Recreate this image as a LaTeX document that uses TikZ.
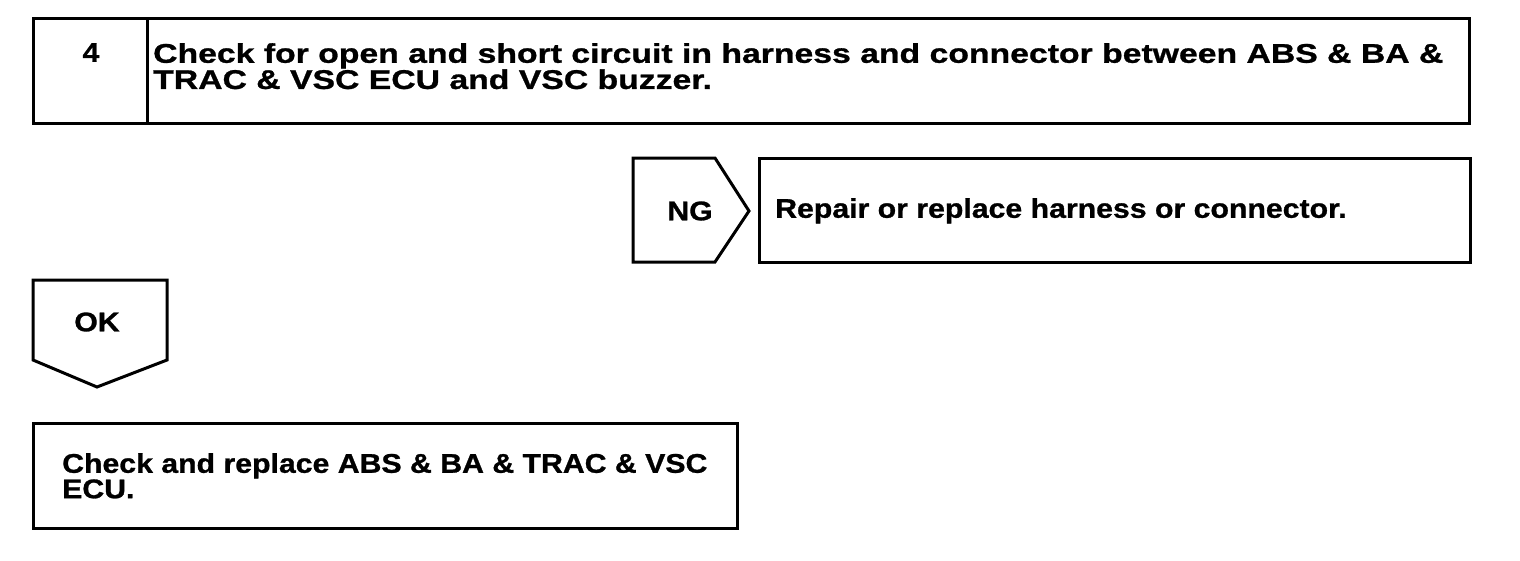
\documentclass[tikz,border=0pt]{standalone}
\usepackage{fontspec}
\setmainfont{Liberation Sans}[BoldFeatures={FakeStretch=1.12,FakeBold=1}]
\newfontfamily\widefont{Liberation Sans Bold}[FakeStretch=1.25,FakeBold=1]
\begin{document}
\begin{tikzpicture}[x=1pt,y=-1pt,
  frame/.style={draw=black,line width=3pt,line join=miter},
  label/.style={inner sep=0pt,font=\bfseries\fontsize{27}{24}\selectfont,align=left,anchor=north west},
  widelabel/.style={label,font=\widefont\fontsize{27}{24}\selectfont},
  tag/.style={inner sep=0pt,font=\bfseries\fontsize{27}{24}\selectfont}]
\useasboundingbox (0,0) rectangle (1520,560);
% step 4 box
\draw[frame] (33,18) rectangle (1469,123);
\draw[frame] (147,18) -- (147,123);
\node[tag,anchor=north] (num) at (91,43) {4};
\node[widelabel] (step) at (153,43) {Check for open and short circuit in harness and connector between ABS \& BA \&\\TRAC \& VSC ECU and VSC buzzer.};
% NG
\draw[frame] (633,158) -- (715,158) -- (749,211) -- (715,262) -- (633,262) -- cycle;
\node[tag] (ng) at (690,211) {NG};
\draw[frame] (759,158) rectangle (1470,262);
\node[label] (repair) at (775,198) {Repair or replace harness or connector.};
% OK
\draw[frame] (33,280) -- (167,280) -- (167,360) -- (97,387) -- (33,360) -- cycle;
\node[tag] (ok) at (97,322) {OK};
% final box
\draw[frame] (33,423) rectangle (737,528);
\node[label] (ecu) at (62,453) {Check and replace ABS \& BA \& TRAC \& VSC\\ECU.};
\end{tikzpicture}
\end{document}
